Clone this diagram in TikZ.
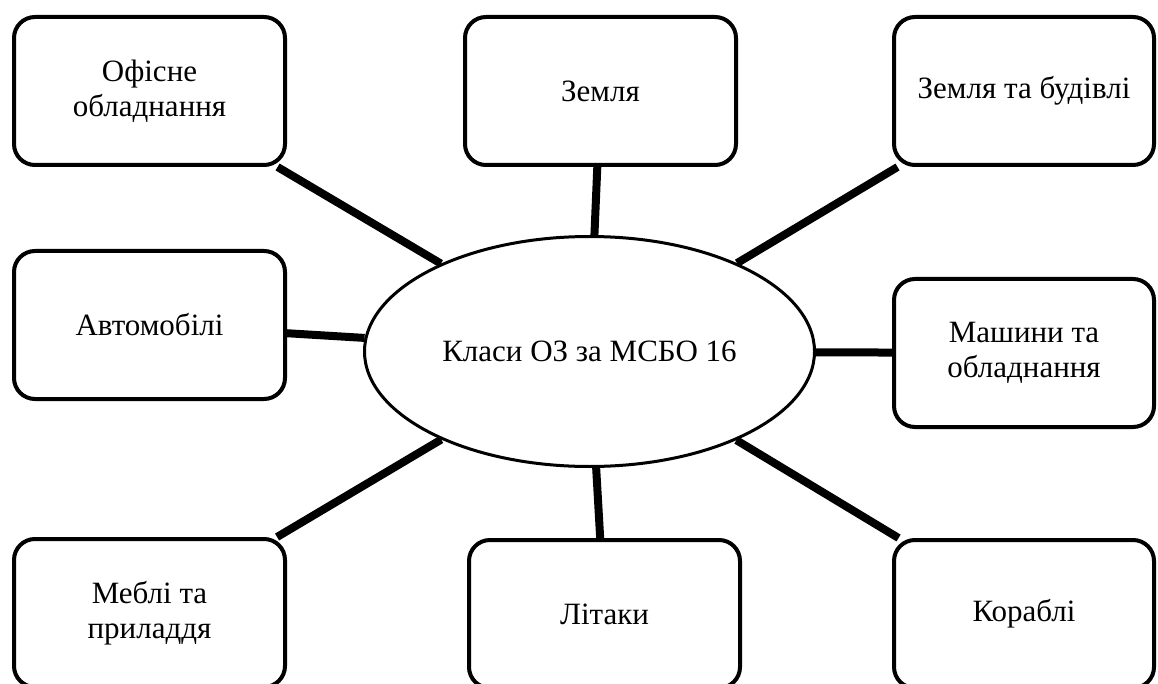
\documentclass[tikz,border=0pt]{standalone}
\usepackage{fontspec}
\setmainfont{Liberation Serif}
\usetikzlibrary{shapes.geometric,backgrounds}
\tikzset{
  box/.style={draw=black, fill=white, line width=4pt, rounded corners=21pt,
    minimum height=148pt, inner sep=0pt, align=center,
    font=\fontsize{31}{35}\selectfont},
  lbox/.style={box, minimum width=271pt},
  rbox/.style={box, minimum width=260pt},
  hub/.style={ellipse, draw=black, fill=white, line width=3pt,
    minimum width=450pt, minimum height=230pt, inner sep=0pt,
    font=\fontsize{31}{35}\selectfont},
  link/.style={line width=8pt, black}
}
\begin{document}
\begin{tikzpicture}[x=1pt, y=-1pt]
\useasboundingbox (0,0) rectangle (1158,684);
\node[hub] (c) at (589.5,351.5) {Класи ОЗ за МСБО 16};
\node[lbox] (b1) at (149.5,91) {Офісне\\обладнання};
\node[lbox] (b2) at (600.5,91) {Земля};
\node[rbox] (b3) at (1024,91) {Земля та будівлі};
\node[lbox] (b4) at (149.5,325) {Автомобілі};
\node[rbox] (b5) at (1024,353) {Машини та\\обладнання};
\node[lbox] (b6) at (149.5,613) {Меблі та\\приладдя};
\node[lbox] (b7) at (604.5,614) {Літаки};
\node[rbox] (b8) at (1024,614) {Кораблі};
\begin{pgfonlayer}{background}
\foreach \b in {b1,b2,b3,b4,b5,b6,b7,b8}
  \draw[link] (c) -- (\b);
\end{pgfonlayer}
\end{tikzpicture}
\end{document}
